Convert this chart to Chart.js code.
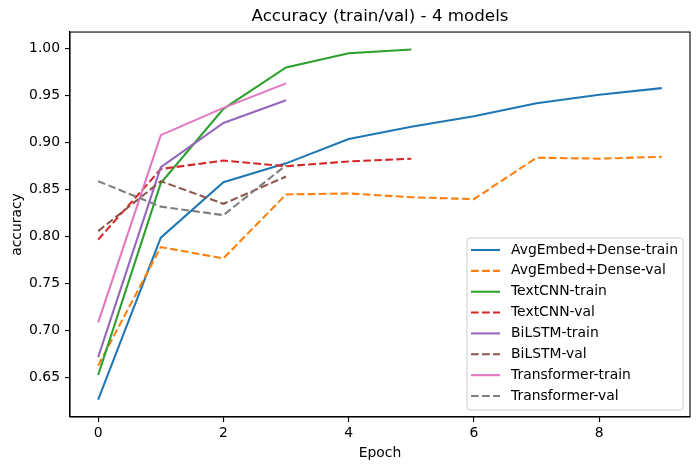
<!DOCTYPE html>
<html>
<head>
<meta charset="utf-8">
<script src="https://cdn.jsdelivr.net/npm/chart.js@4.4.0/dist/chart.umd.min.js"></script>
<style>
html,body{margin:0;padding:0;background:#fff;}
#wrap{width:700px;height:470px;position:relative;}
</style>
</head>
<body>
<div id="wrap"><canvas id="c" width="700" height="470"></canvas></div>
<script>
const epochs = [0, 1, 2, 3, 4, 5, 6, 7, 8, 9];
const avgTrain = [0.627, 0.799, 0.858, 0.878, 0.904, 0.917, 0.928, 0.942, 0.951, 0.958];
const avgVal   = [0.663, 0.789, 0.777, 0.845, 0.846, 0.842, 0.840, 0.884, 0.883, 0.885];
const cnnTrain = [0.653, 0.857, 0.936, 0.980, 0.995, 0.999];
const cnnVal   = [0.797, 0.872, 0.881, 0.875, 0.880, 0.883];
const lstmTrain = [0.672, 0.874, 0.921, 0.945];
const lstmVal   = [0.806, 0.859, 0.835, 0.864];
const tfTrain = [0.709, 0.908, 0.937, 0.963];
const tfVal   = [0.859, 0.832, 0.823, 0.876];
const seriesNames = ['AvgEmbed+Dense-train','AvgEmbed+Dense-val','TextCNN-train','TextCNN-val','BiLSTM-train','BiLSTM-val','Transformer-train','Transformer-val'];
const seriesValues = [avgTrain, avgVal, cnnTrain, cnnVal, lstmTrain, lstmVal, tfTrain, tfVal];
const colors = ['#1f77b4','#ff7f0e','#2ca02c','#d62728','#9467bd','#8c564b','#e377c2','#7f7f7f'];
const xTicks = [0, 2, 4, 6, 8];
const yTicks = [0.65, 0.70, 0.75, 0.80, 0.85, 0.90, 0.95, 1.00];
const titleText = 'Accuracy (train/val) - 4 models';
const xLabel = 'Epoch';
const yLabel = 'accuracy';

const FONT = 'DejaVu Sans';
const DASH = [7.7, 3.33];
const LW = 2.08;

const datasets = seriesValues.map((vals, i) => ({
  label: seriesNames[i],
  data: vals.map((v, j) => ({x: epochs[j], y: v})),
  borderColor: colors[i],
  backgroundColor: colors[i],
  borderWidth: LW,
  borderDash: (i % 2 === 1) ? DASH : [],
  pointRadius: 0,
  pointHoverRadius: 0,
  tension: 0,
  fill: false,
  order: seriesValues.length - i
}));

const framePlugin = {
  id: 'frame',
  afterDatasetsDraw(chart) {
    const a = chart.chartArea, ctx = chart.ctx;
    ctx.save();
    ctx.strokeStyle = '#000';
    ctx.lineWidth = 1.1;
    ctx.strokeRect(a.left, a.top, a.right - a.left, a.bottom - a.top);
    ctx.restore();
  }
};

const legendPlugin = {
  id: 'mplLegend',
  afterDraw(chart) {
    const a = chart.chartArea, ctx = chart.ctx;
    const ds = chart.data.datasets;
    const w = 216, rowH = 20.86, h = 172;
    const x0 = a.right - 7 - w, y0 = a.bottom - 7 - h;
    ctx.save();
    ctx.beginPath();
    if (ctx.roundRect) ctx.roundRect(x0, y0, w, h, 3); else ctx.rect(x0, y0, w, h);
    ctx.fillStyle = 'rgba(255,255,255,0.8)';
    ctx.fill();
    ctx.strokeStyle = '#cccccc';
    ctx.lineWidth = 1;
    ctx.stroke();
    ctx.font = '13.9px "' + FONT + '"';
    ctx.textBaseline = 'middle';
    ds.forEach((d, i) => {
      const y = y0 + 12 + i * rowH;
      ctx.beginPath();
      ctx.strokeStyle = d.borderColor;
      ctx.lineWidth = LW;
      ctx.setLineDash(d.borderDash || []);
      ctx.moveTo(x0 + 4, y);
      ctx.lineTo(x0 + 33, y);
      ctx.stroke();
      ctx.setLineDash([]);
      ctx.fillStyle = '#000';
      ctx.fillText(d.label, x0 + 44, y);
    });
    ctx.restore();
  }
};

new Chart(document.getElementById('c'), {
  type: 'line',
  data: { datasets },
  options: {
    responsive: false,
    animation: false,
    devicePixelRatio: 1,
    layout: { padding: { left: 0, right: 10, top: 0, bottom: 0 } },
    plugins: {
      legend: { display: false },
      tooltip: { enabled: false },
      title: {
        display: true,
        text: titleText,
        fullSize: false,
        color: '#000',
        font: { family: FONT, size: 16.7, weight: 'normal', lineHeight: 1.2 },
        padding: { top: 7, bottom: 5 }
      }
    },
    scales: {
      x: {
        type: 'linear',
        min: -0.45,
        max: 9.45,
        afterBuildTicks: s => { s.ticks = xTicks.map(v => ({value: v})); },
        afterFit: s => { s.height = 53; },
        ticks: {
          color: '#000',
          font: { family: FONT, size: 13.9 },
          padding: 3.5,
          maxRotation: 0,
          callback: v => String(v)
        },
        grid: { display: true, drawOnChartArea: false, drawTicks: true, tickLength: 5, color: '#000', lineWidth: 1.1 },
        border: { display: true, color: '#000', width: 1.1 },
        title: {
          display: true,
          text: xLabel,
          color: '#000',
          font: { family: FONT, size: 13.9, lineHeight: 1.2 },
          padding: { top: 0, bottom: 8.7 }
        }
      },
      y: {
        type: 'linear',
        min: 0.6084,
        max: 1.0176,
        afterBuildTicks: s => { s.ticks = yTicks.map(v => ({value: v})); },
        afterFit: s => { s.width = 70; },
        ticks: {
          color: '#000',
          font: { family: FONT, size: 13.9 },
          padding: 5,
          callback: v => Number(v).toFixed(2)
        },
        grid: { display: true, drawOnChartArea: false, drawTicks: true, tickLength: 5, color: '#000', lineWidth: 1.1 },
        border: { display: true, color: '#000', width: 1.1 },
        title: {
          display: true,
          text: yLabel,
          color: '#000',
          font: { family: FONT, size: 13.9, lineHeight: 1.2 },
          padding: { top: 9, bottom: 0 }
        }
      }
    }
  },
  plugins: [framePlugin, legendPlugin]
});
</script>
</body>
</html>
